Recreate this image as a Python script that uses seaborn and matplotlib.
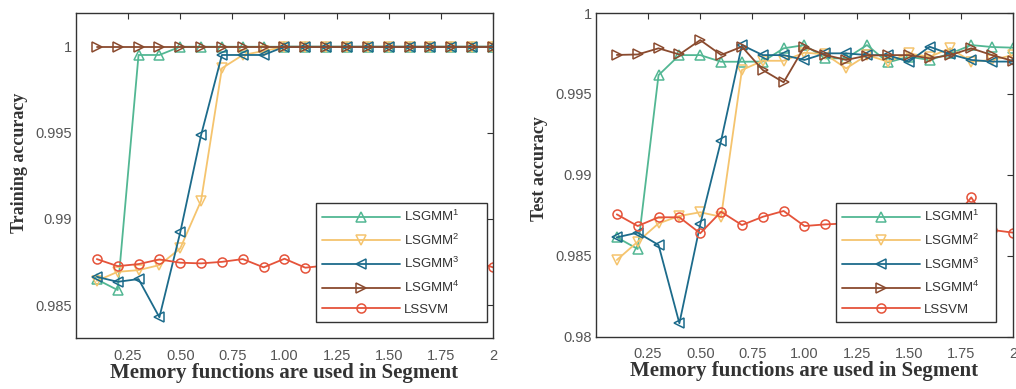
import numpy as np
import pandas as pd
import matplotlib
matplotlib.use("Agg")
import matplotlib.pyplot as plt
import seaborn as sns

# ---------------- data ----------------
x_vals = [0.1, 0.2, 0.3, 0.4, 0.5, 0.6, 0.7, 0.8, 0.9, 1.0,
          1.1, 1.2, 1.3, 1.4, 1.5, 1.6, 1.7, 1.8, 1.9, 2.0]
series_names = ["LSGMM$^1$", "LSGMM$^2$", "LSGMM$^3$", "LSGMM$^4$", "LSSVM"]

train_lsgmm1 = [0.98649, 0.98587, 0.99952, 0.99952, 1, 1, 1, 1, 1, 1,
                1, 1, 1, 1, 1, 1, 1, 1, 1, 1]
train_lsgmm2 = [0.98641, 0.98693, 0.98703, 0.98732, 0.98829, 0.99106, 0.99875, 0.99952, 0.99975, 1,
                1, 1, 1, 1, 1, 1, 1, 1, 1, 1]
train_lsgmm3 = [0.98664, 0.98635, 0.98651, 0.98429, 0.98922, 0.99487, 0.99952, 0.99952, 0.99952, 1,
                1, 1, 1, 1, 1, 1, 1, 1, 1, 1]
train_lsgmm4 = [1, 1, 1, 1, 1, 1, 1, 1, 1, 1,
                1, 1, 1, 1, 1, 1, 1, 1, 1, 1]
train_lssvm = [0.98767, 0.98726, 0.98738, 0.98765, 0.98746, 0.98742, 0.98751, 0.98767, 0.98719, 0.98769,
               0.98717, 0.98730, 0.98750, 0.98740, 0.98720, 0.98740, 0.98730, 0.98740, 0.98760, 0.98719]

test_lsgmm1 = [0.98614, 0.98542, 0.99616, 0.99740, 0.99740, 0.99699, 0.99699, 0.99700, 0.99782, 0.99802,
               0.99720, 0.99720, 0.99802, 0.99695, 0.99730, 0.99710, 0.99750, 0.99802, 0.99790, 0.99786]
test_lsgmm2 = [0.98474, 0.98587, 0.98700, 0.98746, 0.98769, 0.98741, 0.99648, 0.99705, 0.99705, 0.99755,
               0.99745, 0.99658, 0.99740, 0.99700, 0.99750, 0.99730, 0.99782, 0.99700, 0.99710, 0.99740]
test_lsgmm3 = [0.98614, 0.98643, 0.98567, 0.98083, 0.98694, 0.99211, 0.99802, 0.99740, 0.99740, 0.99710,
               0.99751, 0.99751, 0.99740, 0.99740, 0.99699, 0.99792, 0.99745, 0.99710, 0.99700, 0.99700]
test_lsgmm4 = [0.99741, 0.99744, 0.99782, 0.99744, 0.99833, 0.99741, 0.99792, 0.99648, 0.99572, 0.99792,
               0.99741, 0.99710, 0.99737, 0.99740, 0.99740, 0.99720, 0.99740, 0.99782, 0.99740, 0.99704]
test_lssvm = [0.98756, 0.98684, 0.98738, 0.98738, 0.98639, 0.98772, 0.98690, 0.98741, 0.98777, 0.98684,
              0.98694, 0.98700, 0.98710, 0.98720, 0.98700, 0.98710, 0.98700, 0.98861, 0.98660, 0.98643]

xtick_vals = [0.25, 0.5, 0.75, 1.0, 1.25, 1.5, 1.75, 2.0]
xtick_labels = ["0.25", "0.50", "0.75", "1.00", "1.25", "1.50", "1.75", "2"]
ytick_train = [0.985, 0.99, 0.995, 1.0]
ytick_train_labels = ["0.985", "0.99", "0.995", "1"]
ytick_test = [0.98, 0.985, 0.99, 0.995, 1.0]
ytick_test_labels = ["0.98", "0.985", "0.99", "0.995", "1"]

# ---------------- style ----------------
colors = ["#52b793", "#f5c46e", "#1c6b8b", "#8a4a2e", "#e5533a"]
markers = ["^", "v", "<", ">", "o"]

sns.set_style("white")
plt.rcParams["font.family"] = ["Liberation Sans", "DejaVu Sans"]
plt.rcParams["mathtext.fontset"] = "custom"
plt.rcParams["mathtext.rm"] = "Liberation Sans"
plt.rcParams["mathtext.it"] = "Liberation Sans"

fig = plt.figure(figsize=(10.16, 3.89), dpi=100)
ax1 = fig.add_axes([0.0748, 0.1303, 0.4104, 0.8355])
ax2 = fig.add_axes([0.5866, 0.1344, 0.4104, 0.8321])

train_sets = [train_lsgmm1, train_lsgmm2, train_lsgmm3, train_lsgmm4, train_lssvm]
test_sets = [test_lsgmm1, test_lsgmm2, test_lsgmm3, test_lsgmm4, test_lssvm]


def draw(ax, sets, ylim, yticks, ylabels, ylabel, label_y, legend_box):
    for name, vals, c, m in zip(series_names, sets, colors, markers):
        df = pd.DataFrame({"x": x_vals, "y": vals})
        sns.lineplot(data=df, x="x", y="y", ax=ax, color=c, marker=m,
                     markersize=6.5, mfc="none", mec=c, mew=1.1,
                     linewidth=1.3, label=name, legend=False)
    ax.set_xlim(0, 2)
    ax.set_ylim(*ylim)
    ax.set_xticks(xtick_vals)
    ax.set_xticklabels(xtick_labels)
    ax.set_yticks(yticks)
    ax.set_yticklabels(ylabels)
    ax.tick_params(axis="both", direction="in", length=4, width=0.8,
                   colors="#333333", labelcolor="#555555", labelsize=10.5,
                   top=True, right=True)
    ax.tick_params(axis="x", pad=7.5)
    ax.tick_params(axis="y", pad=3)
    for s in ax.spines.values():
        s.set_color("#333333")
        s.set_linewidth(1.0)
    ax.set_xlabel("Memory functions are used in Segment",
                  fontfamily="Liberation Serif", fontweight="bold",
                  fontsize=15, color="#333333", labelpad=0)
    ax.set_ylabel(ylabel, fontfamily="Liberation Serif", fontweight="bold",
                  fontsize=13, color="#333333")
    ax.yaxis.set_label_coords(-0.115, label_y)
    handles, labels = ax.get_legend_handles_labels()
    leg = ax.legend(handles, labels, loc="lower left", bbox_to_anchor=legend_box,
                    mode="expand", frameon=True, fancybox=False, framealpha=1,
                    edgecolor="#333333", fontsize=9.5, handlelength=5.9,
                    handletextpad=0.3, labelspacing=0.64, borderpad=0.45,
                    borderaxespad=0, numpoints=1)
    leg.get_frame().set_linewidth(1.0)
    for t in leg.get_texts():
        t.set_color("#333333")


draw(ax1, train_sets, (0.98307, 1.00194), ytick_train, ytick_train_labels,
     "Training accuracy", 0.541, (0.5755, 0.051, 0.410, 0.37))
draw(ax2, test_sets, (0.98, 1.0), ytick_test, ytick_test_labels,
     "Test accuracy", 0.52, (0.5755, 0.046, 0.3837, 0.37))

fig.savefig("out.png", dpi=100)
